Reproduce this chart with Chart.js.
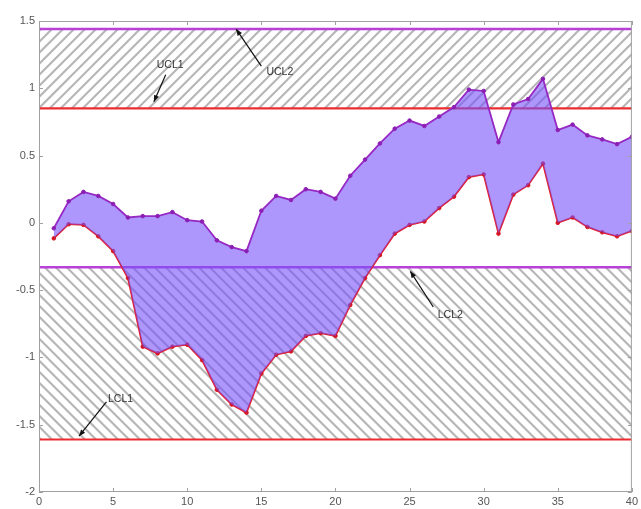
<!DOCTYPE html>
<html>
<head>
<meta charset="utf-8">
<script src="https://cdn.jsdelivr.net/npm/chart.js@4.4.1/dist/chart.umd.min.js"></script>
<style>
  html, body { margin: 0; padding: 0; background: #ffffff; }
  #wrap { width: 641px; height: 509px; }
</style>
</head>
<body>
<div id="wrap"><canvas id="chart" width="641" height="509"></canvas></div>
<script>
// Sample index and the two monitored series
const samples = [1,2,3,4,5,6,7,8,9,10,11,12,13,14,15,16,17,18,19,20,
                 21,22,23,24,25,26,27,28,29,30,31,32,33,34,35,36,37,38,39,40];
const upperSeries = [-0.04, 0.16, 0.23, 0.20, 0.14, 0.04, 0.05, 0.05, 0.08, 0.02,
                      0.01,-0.13,-0.18,-0.21, 0.09, 0.20, 0.17, 0.25, 0.23, 0.18,
                      0.35, 0.47, 0.59, 0.70, 0.76, 0.72, 0.79, 0.86, 0.99, 0.98,
                      0.60, 0.88, 0.92, 1.07, 0.69, 0.73, 0.65, 0.62, 0.585, 0.64];
const lowerSeries = [-0.115,-0.01,-0.015,-0.10,-0.21,-0.41,-0.92,-0.97,-0.92,-0.905,
                     -1.02,-1.24,-1.35,-1.41,-1.12,-0.98,-0.955,-0.84,-0.82,-0.84,
                     -0.61,-0.41,-0.24,-0.08,-0.015, 0.01, 0.11, 0.195, 0.34, 0.36,
                     -0.08, 0.21, 0.28, 0.44, 0.00, 0.04,-0.03,-0.07,-0.10,-0.06];

// Control limits
const limitNames  = ['UCL2', 'UCL1', 'LCL2', 'LCL1'];
const limitValues = [1.44, 0.85, -0.33, -1.61];

// Axis ticks
const xTicks = [0, 5, 10, 15, 20, 25, 30, 35, 40];
const yTicks = [-2, -1.5, -1, -0.5, 0, 0.5, 1, 1.5];

// Limit labels: text position and arrow tail/head, in data units
const labelNames = ['UCL1', 'UCL2', 'LCL2', 'LCL1'];
const labelText  = [[8.85, 1.17], [16.25, 1.12], [27.75, -0.685], [5.5, -1.31]];
const arrowTail  = [[8.55, 1.10], [15.0, 1.165], [26.6, -0.625], [4.55, -1.33]];
const arrowHead  = [[7.75, 0.90], [13.3, 1.44], [25.05, -0.36], [2.7, -1.585]];

const limit = name => limitValues[limitNames.indexOf(name)];
const toPoints = vals => samples.map((s, i) => ({ x: s, y: vals[i] }));

const PURPLE_LIMIT = 'rgb(184, 66, 214)';
const RED_LIMIT = 'rgb(236, 44, 48)';
const FONT = '"Liberation Sans", Arial, sans-serif';

const decorations = {
  id: 'decorations',
  beforeDatasetsDraw(chart) {
    const { ctx, chartArea: a, scales: { x, y } } = chart;
    // hatched bands between the two upper and the two lower limits
    const band = (v1, v2, dir) => {
      const top = y.getPixelForValue(Math.max(v1, v2));
      const bot = y.getPixelForValue(Math.min(v1, v2));
      const h = bot - top;
      ctx.save();
      ctx.beginPath();
      ctx.rect(a.left, top, a.right - a.left, h);
      ctx.clip();
      ctx.strokeStyle = 'rgba(120, 120, 120, 0.55)';
      ctx.lineWidth = 2.1;
      for (let x0 = a.left - h - 20; x0 < a.right + 20; x0 += 11) {
        ctx.beginPath();
        if (dir > 0) { ctx.moveTo(x0, bot); ctx.lineTo(x0 + h, top); }
        else { ctx.moveTo(x0, top); ctx.lineTo(x0 + h, bot); }
        ctx.stroke();
      }
      ctx.restore();
    };
    band(limit('UCL2'), limit('UCL1'), 1);
    band(limit('LCL2'), limit('LCL1'), -1);

    // horizontal limit lines
    ctx.save();
    limitNames.forEach((n, i) => {
      const py = y.getPixelForValue(limitValues[i]);
      ctx.strokeStyle = n.endsWith('2') ? PURPLE_LIMIT : RED_LIMIT;
      ctx.lineWidth = n.endsWith('2') ? 2.6 : 2.2;
      ctx.beginPath();
      ctx.moveTo(a.left, py);
      ctx.lineTo(a.right, py);
      ctx.stroke();
    });
    ctx.restore();
  },
  afterDatasetsDraw(chart) {
    const { ctx, chartArea: a, scales: { x, y } } = chart;
    ctx.save();
    // limit labels with arrows
    ctx.font = '10.5px ' + FONT;
    ctx.strokeStyle = '#111';
    ctx.textAlign = 'center';
    ctx.textBaseline = 'middle';
    labelNames.forEach((t, i) => {
      ctx.fillStyle = '#333';
      ctx.fillText(t, x.getPixelForValue(labelText[i][0]), y.getPixelForValue(labelText[i][1]));
      const x1 = x.getPixelForValue(arrowTail[i][0]), y1 = y.getPixelForValue(arrowTail[i][1]);
      const x2 = x.getPixelForValue(arrowHead[i][0]), y2 = y.getPixelForValue(arrowHead[i][1]);
      ctx.lineWidth = 1.2;
      ctx.beginPath();
      ctx.moveTo(x1, y1);
      ctx.lineTo(x2, y2);
      ctx.stroke();
      const ang = Math.atan2(y2 - y1, x2 - x1);
      const L = 7, W = 0.38;
      ctx.beginPath();
      ctx.moveTo(x2, y2);
      ctx.lineTo(x2 - L * Math.cos(ang - W), y2 - L * Math.sin(ang - W));
      ctx.lineTo(x2 - L * Math.cos(ang + W), y2 - L * Math.sin(ang + W));
      ctx.closePath();
      ctx.fillStyle = '#111';
      ctx.fill();
    });

    // axes box with inward tick marks
    ctx.strokeStyle = '#a0a0a0';
    ctx.lineWidth = 1;
    ctx.strokeRect(a.left + 0.5, a.top + 0.5, a.right - a.left - 1, a.bottom - a.top - 1);
    ctx.beginPath();
    xTicks.forEach(v => {
      const px = Math.round(x.getPixelForValue(v)) + 0.5;
      ctx.moveTo(px, a.bottom); ctx.lineTo(px, a.bottom - 4);
      ctx.moveTo(px, a.top); ctx.lineTo(px, a.top + 4);
    });
    yTicks.forEach(v => {
      const py = Math.round(y.getPixelForValue(v)) + 0.5;
      ctx.moveTo(a.left, py); ctx.lineTo(a.left + 4, py);
      ctx.moveTo(a.right, py); ctx.lineTo(a.right - 4, py);
    });
    ctx.stroke();
    ctx.restore();
  }
};

new Chart(document.getElementById('chart'), {
  type: 'line',
  data: {
    datasets: [
      {
        label: 'upper',
        data: toPoints(upperSeries),
        borderColor: 'rgb(150, 40, 196)',
        backgroundColor: 'rgba(118, 82, 250, 0.6)',
        pointBackgroundColor: 'rgb(140, 30, 180)',
        pointBorderColor: 'rgb(140, 30, 180)',
        pointRadius: 1.8,
        pointBorderWidth: 1,
        borderWidth: 1.8,
        tension: 0,
        fill: '+1'
      },
      {
        label: 'lower',
        data: toPoints(lowerSeries),
        borderColor: 'rgb(232, 30, 40)',
        pointBackgroundColor: 'rgb(215, 20, 30)',
        pointBorderColor: 'rgb(215, 20, 30)',
        pointRadius: 1.8,
        pointBorderWidth: 1,
        borderWidth: 1.8,
        tension: 0,
        fill: false
      }
    ]
  },
  options: {
    responsive: false,
    animation: false,
    events: [],
    layout: { padding: { top: 21, right: 6, left: 0, bottom: 0 } },
    plugins: {
      legend: { display: false },
      tooltip: { enabled: false },
      title: { display: false }
    },
    scales: {
      x: {
        type: 'linear',
        min: 0, max: 40,
        grid: { display: false, drawTicks: false, tickLength: 0 },
        border: { display: false },
        afterBuildTicks: s => { s.ticks = xTicks.map(v => ({ value: v })); },
        afterFit: s => { s.height = 17; },
        ticks: {
          padding: 3,
          color: '#555',
          maxRotation: 0,
          font: { family: FONT, size: 11 }
        }
      },
      y: {
        type: 'linear',
        min: -2, max: 1.5,
        grid: { display: false, drawTicks: false, tickLength: 0 },
        border: { display: false },
        afterBuildTicks: s => { s.ticks = yTicks.map(v => ({ value: v })); },
        afterFit: s => { s.width = 39; },
        ticks: {
          padding: 4,
          color: '#555',
          callback: v => String(v),
          font: { family: FONT, size: 11 }
        }
      }
    }
  },
  plugins: [decorations]
});
</script>
</body>
</html>
